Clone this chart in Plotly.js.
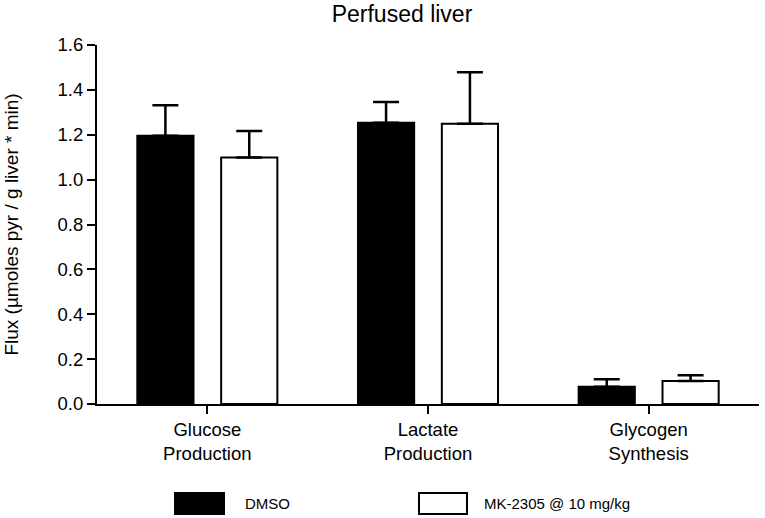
<!DOCTYPE html>
<html>
<head>
<meta charset="utf-8">
<script src="https://cdn.plot.ly/plotly-3.0.1.min.js"></script>
<style>
  html, body { margin: 0; padding: 0; background: #fff; }
  #chart { width: 765px; height: 518px; }
</style>
</head>
<body>
<div id="chart"></div>
<script>
var categories = ['Glucose<br>Production', 'Lactate<br>Production', 'Glycogen<br>Synthesis'];
var dmsoValues = [1.196, 1.254, 0.077];
var dmsoErrors = [0.135, 0.092, 0.033];
var mkValues = [1.099, 1.249, 0.102];
var mkErrors = [0.118, 0.229, 0.026];
var seriesNames = ['DMSO', 'MK-2305 @ 10 mg/kg'];
var yTicks = [0, 0.2, 0.4, 0.6, 0.8, 1.0, 1.2, 1.4, 1.6];

var W = 765, H = 518;
var margin = { l: 97, r: 6, t: 45, b: 114 };
var plotW = W - margin.l - margin.r;
var plotH = H - margin.t - margin.b;

// pixel -> paper helpers for the hand-drawn legend
function px(x) { return (x - margin.l) / plotW; }
function py(y) { return (H - margin.b - y) / plotH; }

function zeros(n) { return new Array(n).fill(0); }

var traceDmso = {
    type: 'bar', name: seriesNames[0], x: categories, y: dmsoValues,
    marker: { color: '#000000', line: { color: '#000000', width: 2 } },
    error_y: { type: 'data', symmetric: false, array: dmsoErrors, arrayminus: zeros(dmsoErrors.length),
               color: '#000000', thickness: 2.5, width: 13 },
    showlegend: false
};
var traceMk = {
    type: 'bar', name: seriesNames[1], x: categories, y: mkValues,
    marker: { color: '#ffffff', line: { color: '#000000', width: 2 } },
    error_y: { type: 'data', symmetric: false, array: mkErrors, arrayminus: zeros(mkErrors.length),
               color: '#000000', thickness: 2.5, width: 13 },
    showlegend: false
};

var font = { family: 'Liberation Sans, Arial, sans-serif', color: '#000000' };

var legendShapes = [
    { type: 'rect', xref: 'paper', yref: 'paper', x0: px(175), x1: px(224), y0: py(514), y1: py(493),
      fillcolor: '#000000', line: { color: '#000000', width: 2 } },
    { type: 'rect', xref: 'paper', yref: 'paper', x0: px(419), x1: px(467), y0: py(514), y1: py(493),
      fillcolor: '#ffffff', line: { color: '#000000', width: 2 } }
];
var legendLabels = [
    { xref: 'paper', yref: 'paper', x: px(243), y: py(503), xanchor: 'left', yanchor: 'middle',
      text: seriesNames[0], showarrow: false, font: Object.assign({ size: 15 }, font) },
    { xref: 'paper', yref: 'paper', x: px(482), y: py(503), xanchor: 'left', yanchor: 'middle',
      text: seriesNames[1], showarrow: false, font: Object.assign({ size: 15 }, font) }
];

var layout = {
    width: W, height: H,
    margin: margin,
    paper_bgcolor: '#ffffff', plot_bgcolor: '#ffffff',
    font: Object.assign({ size: 18 }, font),
    title: { text: 'Perfused liver', x: 402 / W, xref: 'container', xanchor: 'center',
             y: 1 - 14 / H, yref: 'container', yanchor: 'middle',
             font: Object.assign({ size: 23 }, font) },
    barmode: 'group', bargap: 0.24, bargroupgap: 0.33,
    xaxis: {
        range: [-0.5, 2.5], showline: true, linecolor: '#000000', linewidth: 2,
        ticks: 'outside', ticklen: 8, tickwidth: 2, tickcolor: '#000000',
        showgrid: false, zeroline: false, fixedrange: true,
        tickfont: Object.assign({ size: 18.5 }, font)
    },
    yaxis: {
        range: [0, 1.6], tickvals: yTicks, tickformat: '.1f',
        showline: true, linecolor: '#000000', linewidth: 2,
        ticks: 'outside', ticklen: 8, tickwidth: 2, tickcolor: '#000000',
        showgrid: false, zeroline: false, fixedrange: true,
        tickfont: Object.assign({ size: 18.5 }, font),
        title: { text: 'Flux (µmoles pyr / g liver * min)', standoff: 34,
                 font: Object.assign({ size: 19 }, font) }
    },
    shapes: legendShapes,
    annotations: legendLabels,
    showlegend: false
};

Plotly.newPlot('chart', [traceDmso, traceMk], layout, { displayModeBar: false, staticPlot: true });
</script>
</body>
</html>
